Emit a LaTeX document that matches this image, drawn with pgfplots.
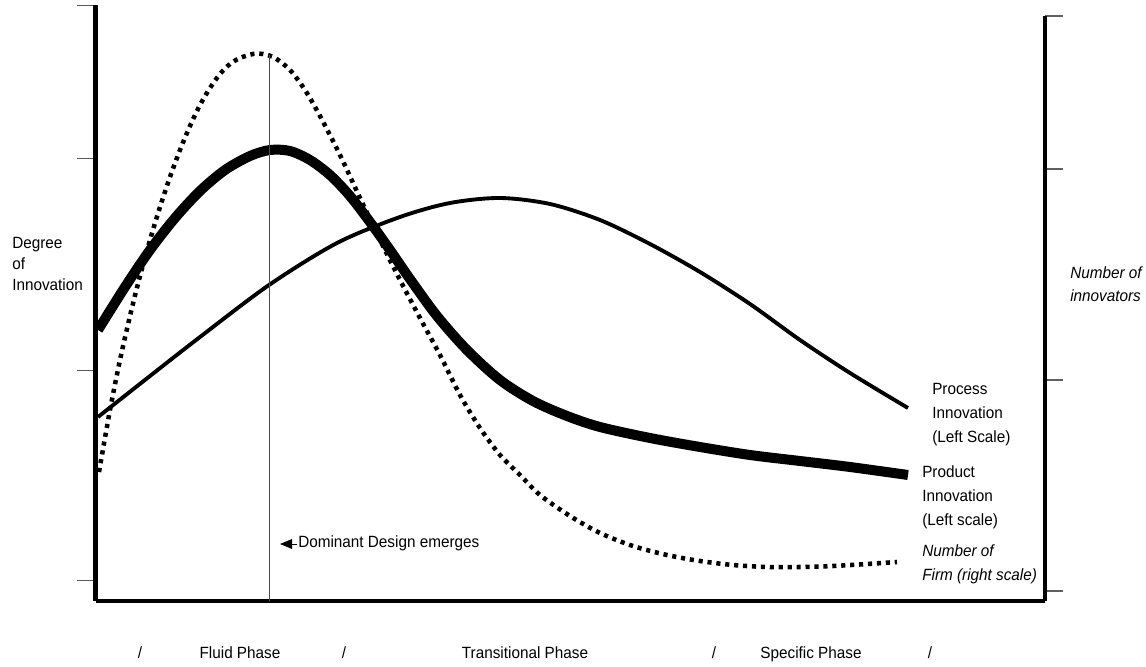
\documentclass[border=0pt]{standalone}
\usepackage{fontspec}
\setmainfont{Liberation Sans}[FakeStretch=0.94]
\usepackage{pgfplots}
\pgfplotsset{compat=1.18}
\newcommand{\fs}{\fontsize{12.2}{14}\selectfont}
\begin{document}
\begin{tikzpicture}
\begin{axis}[
  scale only axis, x=0.75pt, y=0.75pt,
  xmin=96, xmax=1045, ymin=66, ymax=662,
  axis x line*=bottom, axis y line*=left,
  x axis line style={line width=3.4pt},
  y axis line style={line width=3.75pt},
  xtick=\empty,
  ytick={86,296,508,661}, yticklabels={},
  tick align=outside, major tick length=14.25pt,
  ytick style={line width=0.75pt, color=gray!70!black},
  clip=false,
]
\path (axis cs:0,0) rectangle (axis cs:1146,667);
% Process innovation (left scale)
\addplot[black, line width=2.9pt, smooth] coordinates {
(98,250)(150,291)(200,330)(269,382)(337,424)(400,450)(450,464)(500,469)(550,463)(600,447)(650,423)(700,395)(750,363)(800,327)(850,294)(908,259)};
% Product innovation (left scale)
\addplot[black, line width=7.5pt, smooth] coordinates {
(98,337)(125,380)(150,417)(175,449)(200,476)(225,497)(250,511)(270,517)(290,516)(310,507)(330,492)(350,471)(370,445)(390,417)(410,388)(437,351)(467,317)(500,287)(533,266)(567,251)(600,240)(650,229)(700,220)(750,212)(800,206)(850,200)(908,192)};
% Number of firms (right scale)
\addplot[black, line width=3.4pt, dash pattern=on 3.1pt off 3.6pt, smooth] coordinates {
(99,195)(110,257)(120,307)(130,351)(140,391)(150,427)(160,460)(170,490)(180,517)(190,541)(200,562)(210,579)(220,593)(230,603)(240,609)(253,613)(263,613)(275,609)(290,597)(305,577)(320,551)(340,512)(360,469)(380,427)(400,387)(420,349)(440,312)(460,272)(480,239)(500,212)(520,192)(540,172)(570,151)(600,134)(633,121)(667,112)(700,106)(733,102)(767,100)(800,100)(833,101)(867,103)(897,105)};
% Dominant design line
\addplot[gray!60!black, line width=0.75pt] coordinates {(269,612)(269,66)};
\fill[black] (axis cs:280,123) -- (axis cs:292,128) -- (axis cs:292,118) -- cycle;
\draw[black, line width=0.6pt] (axis cs:291,123) -- (axis cs:297,123);
\node[anchor=base west, inner sep=0pt, font=\fs] at (axis cs:298,119) {Dominant Design emerges};
% labels
\node[anchor=base west, inner sep=0pt, font=\fs] at (axis cs:12,418) {Degree};
\node[anchor=base west, inner sep=0pt, font=\fs] at (axis cs:12,397) {of};
\node[anchor=base west, inner sep=0pt, font=\fs] at (axis cs:12,376) {Innovation};
\node[anchor=base west, inner sep=0pt, font=\fs\itshape] at (axis cs:1070,388) {Number of};
\node[anchor=base west, inner sep=0pt, font=\fs\itshape] at (axis cs:1070,365) {innovators};
\node[anchor=base west, inner sep=0pt, font=\fs] at (axis cs:932,272) {Process};
\node[anchor=base west, inner sep=0pt, font=\fs] at (axis cs:932,248) {Innovation};
\node[anchor=base west, inner sep=0pt, font=\fs] at (axis cs:932,224) {(Left Scale)};
\node[anchor=base west, inner sep=0pt, font=\fs] at (axis cs:922,189) {Product};
\node[anchor=base west, inner sep=0pt, font=\fs] at (axis cs:922,165) {Innovation};
\node[anchor=base west, inner sep=0pt, font=\fs] at (axis cs:922,141) {(Left scale)};
\node[anchor=base west, inner sep=0pt, font=\fs\itshape] at (axis cs:922,110) {Number of};
\node[anchor=base west, inner sep=0pt, font=\fs\itshape] at (axis cs:922,86) {Firm (right scale)};
% phases
\node[anchor=base, inner sep=0pt, font=\fs] at (axis cs:140,9) {/};
\node[anchor=base, inner sep=0pt, font=\fs] at (axis cs:240,9) {Fluid Phase};
\node[anchor=base, inner sep=0pt, font=\fs] at (axis cs:344,9) {/};
\node[anchor=base, inner sep=0pt, font=\fs] at (axis cs:525,9) {Transitional Phase};
\node[anchor=base, inner sep=0pt, font=\fs] at (axis cs:714,9) {/};
\node[anchor=base, inner sep=0pt, font=\fs] at (axis cs:811,9) {Specific Phase};
\node[anchor=base, inner sep=0pt, font=\fs] at (axis cs:930,9) {/};
\end{axis}
\begin{axis}[
  scale only axis, x=0.75pt, y=0.75pt,
  xmin=96, xmax=1045, ymin=66, ymax=651,
  axis x line=none, axis y line*=right,
  y axis line style={line width=3pt},
  ytick={76,287,498,651}, yticklabels={},
  tick align=outside, major tick length=13.5pt,
  ytick style={line width=1.1pt, color=gray!75!black},
]
\end{axis}
\end{tikzpicture}
\end{document}
